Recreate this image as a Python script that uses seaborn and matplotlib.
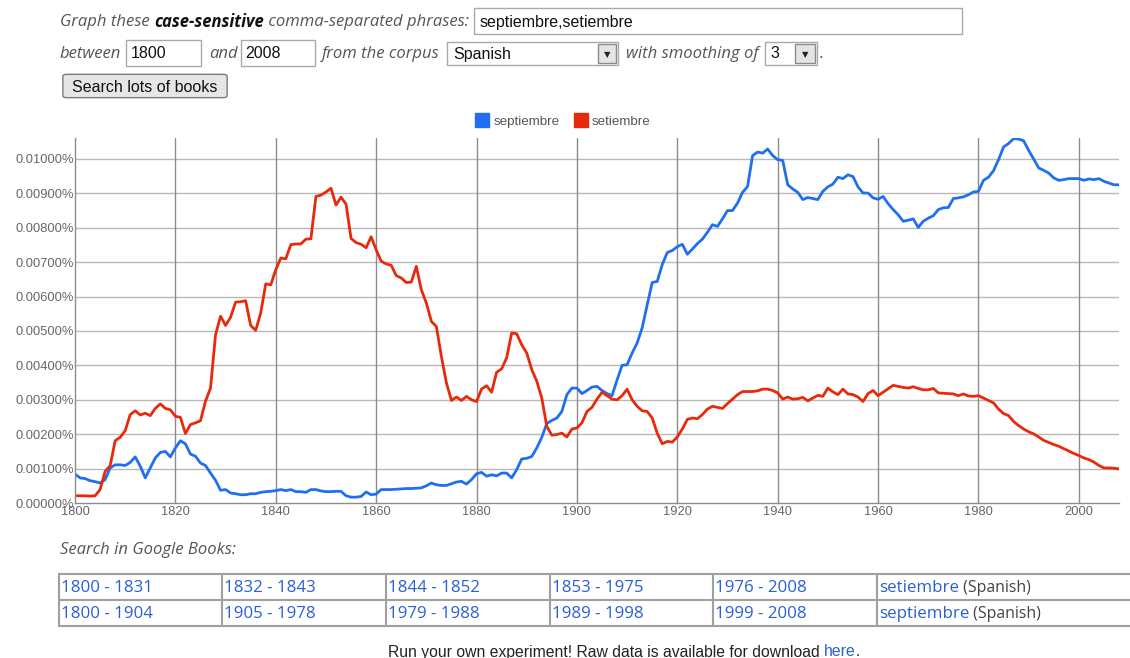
import numpy as np
import pandas as pd
import seaborn as sns
import matplotlib.pyplot as plt
from matplotlib.patches import Rectangle, FancyBboxPatch
from matplotlib.lines import Line2D
from matplotlib.ticker import FuncFormatter

# values in units of 0.001 %
years = list(range(1800, 2009))
setiembre = [
    0.21, 0.21, 0.21, 0.20, 0.21, 0.39, 0.92, 1.08, 1.81, 1.91,
    2.10, 2.57, 2.68, 2.56, 2.61, 2.54, 2.75, 2.88, 2.75, 2.71,
    2.52, 2.49, 2.02, 2.28, 2.33, 2.39, 2.96, 3.34, 4.89, 5.43,
    5.16, 5.40, 5.84, 5.85, 5.88, 5.16, 5.02, 5.52, 6.37, 6.34,
    6.78, 7.12, 7.10, 7.51, 7.53, 7.53, 7.67, 7.68, 8.91, 8.95,
    9.04, 9.15, 8.66, 8.89, 8.69, 7.69, 7.57, 7.52, 7.42, 7.74,
    7.36, 7.03, 6.95, 6.91, 6.61, 6.54, 6.41, 6.42, 6.88, 6.20,
    5.81, 5.28, 5.13, 4.26, 3.49, 2.98, 3.08, 2.98, 3.10, 3.00,
    2.95, 3.31, 3.41, 3.22, 3.80, 3.90, 4.22, 4.94, 4.92, 4.60,
    4.36, 3.88, 3.54, 3.05, 2.23, 1.97, 1.99, 2.03, 1.92, 2.15,
    2.18, 2.33, 2.66, 2.78, 3.02, 3.22, 3.12, 3.02, 3.00, 3.12,
    3.31, 3.00, 2.81, 2.68, 2.66, 2.47, 2.03, 1.72, 1.79, 1.77,
    1.92, 2.15, 2.43, 2.47, 2.45, 2.57, 2.73, 2.81, 2.78, 2.75,
    2.89, 3.02, 3.15, 3.24, 3.24, 3.24, 3.26, 3.31, 3.31, 3.27,
    3.20, 3.02, 3.08, 3.02, 3.03, 3.07, 2.97, 3.05, 3.13, 3.10,
    3.34, 3.23, 3.15, 3.31, 3.17, 3.15, 3.08, 2.95, 3.18, 3.27,
    3.12, 3.22, 3.32, 3.42, 3.39, 3.36, 3.34, 3.38, 3.33, 3.29,
    3.29, 3.33, 3.20, 3.19, 3.18, 3.17, 3.12, 3.17, 3.11, 3.10,
    3.12, 3.05, 2.98, 2.91, 2.73, 2.60, 2.54, 2.37, 2.25, 2.15,
    2.07, 2.01, 1.92, 1.82, 1.76, 1.70, 1.65, 1.58, 1.51, 1.44,
    1.38, 1.31, 1.26, 1.19, 1.09, 1.02, 1.02, 1.01, 0.99,
]
septiembre = [
    0.84, 0.73, 0.71, 0.65, 0.62, 0.58, 0.68, 1.02, 1.11, 1.11,
    1.09, 1.18, 1.34, 1.07, 0.73, 1.02, 1.31, 1.47, 1.50, 1.34,
    1.60, 1.81, 1.72, 1.42, 1.36, 1.16, 1.09, 0.87, 0.66, 0.37,
    0.39, 0.29, 0.27, 0.24, 0.24, 0.27, 0.27, 0.31, 0.33, 0.34,
    0.36, 0.39, 0.36, 0.39, 0.33, 0.33, 0.31, 0.39, 0.39, 0.35,
    0.33, 0.33, 0.34, 0.34, 0.21, 0.17, 0.17, 0.19, 0.32, 0.24,
    0.26, 0.39, 0.39, 0.39, 0.40, 0.41, 0.42, 0.42, 0.43, 0.44,
    0.50, 0.58, 0.53, 0.51, 0.51, 0.56, 0.61, 0.63, 0.55, 0.68,
    0.85, 0.89, 0.78, 0.82, 0.79, 0.87, 0.87, 0.73, 0.97, 1.28,
    1.30, 1.35, 1.60, 1.91, 2.31, 2.40, 2.47, 2.66, 3.15, 3.34,
    3.34, 3.18, 3.27, 3.37, 3.39, 3.27, 3.18, 3.12, 3.58, 4.00,
    4.02, 4.36, 4.65, 5.09, 5.76, 6.41, 6.44, 6.93, 7.28, 7.34,
    7.45, 7.52, 7.23, 7.38, 7.54, 7.67, 7.87, 8.09, 8.04, 8.26,
    8.50, 8.50, 8.72, 9.03, 9.20, 10.10, 10.20, 10.17, 10.29, 10.10,
    9.98, 9.96, 9.25, 9.13, 9.03, 8.82, 8.88, 8.85, 8.82, 9.06,
    9.19, 9.27, 9.47, 9.43, 9.54, 9.49, 9.19, 9.01, 9.01, 8.87,
    8.83, 8.91, 8.70, 8.53, 8.38, 8.19, 8.22, 8.26, 8.01, 8.19,
    8.28, 8.35, 8.53, 8.58, 8.59, 8.85, 8.87, 8.90, 8.96, 9.04,
    9.06, 9.38, 9.47, 9.66, 9.98, 10.35, 10.45, 10.59, 10.58, 10.53,
    10.25, 10.00, 9.74, 9.67, 9.59, 9.45, 9.38, 9.40, 9.43, 9.43,
    9.43, 9.38, 9.42, 9.40, 9.43, 9.35, 9.30, 9.25, 9.25,
]
phrases = ["septiembre", "setiembre"]
colors = ["#1f6ff0", "#e8290b"]
x_ticks = list(range(1800, 2001, 20))
y_ticks = list(range(0, 11))

book_ranges = [
    ["1800 - 1831", "1832 - 1843", "1844 - 1852", "1853 - 1975", "1976 - 2008"],
    ["1800 - 1904", "1905 - 1978", "1979 - 1988", "1989 - 1998", "1999 - 2008"],
]
book_phrases = ["setiembre", "septiembre"]

W, H = 1130, 658
sns.set_style("white")
plt.rcParams["font.family"] = ["Liberation Sans", "DejaVu Sans"]

fig = plt.figure(figsize=(W / 100, H / 100), dpi=100)


def fx(x):
    return x / W


def fy(y):
    return 1 - y / H


def box(x0, y0, x1, y1, fc="white", ec="#a9a9a9", lw=1.0):
    fig.add_artist(Rectangle((fx(x0), fy(y1)), (x1 - x0) / W, (y1 - y0) / H,
                             transform=fig.transFigure, fc=fc, ec=ec, lw=lw))


def runs(x, y, parts, **common):
    r = fig.canvas.get_renderer()
    cx = x
    for s, kw in parts:
        opts = {**common, **kw}
        t = fig.text(fx(cx), fy(y), s, ha="left", va="center", **opts)
        cx += t.get_window_extent(r).width
    return cx


def dropdown(x0, y0, x1, y1):
    box(x0, y0, x1, y1, fc="#e4e4e4", ec="#8a8a8a")
    fig.text(fx((x0 + x1) / 2), fy((y0 + y1) / 2 + 1), "\u25BC", ha="center", va="center",
             fontsize=6, color="#222", family="DejaVu Sans")


# ---- form at top ----
lab = dict(family="Open Sans", style="italic", color="#555555", fontsize=12)
inp = dict(fontsize=11.5, color="#111")
runs(60, 22, [("Graph these ", {}), ("case-sensitive", {"weight": "bold", "color": "#111"}),
              (" comma-separated phrases:", {})], **lab)
box(474, 8, 962, 34)
fig.text(fx(480), fy(22), "septiembre,setiembre", ha="left", va="center", **inp)

fig.text(fx(60), fy(54), "between", ha="left", va="center", **lab)
box(126, 40, 201, 66)
fig.text(fx(131), fy(54), "1800", ha="left", va="center", **inp)
fig.text(fx(209), fy(54), "and", ha="left", va="center", **lab)
box(241, 40, 315, 66)
fig.text(fx(245), fy(54), "2008", ha="left", va="center", **inp)
fig.text(fx(322), fy(54), "from the corpus", ha="left", va="center", **lab)
box(447, 42, 618, 65)
fig.text(fx(453), fy(54), "Spanish", ha="left", va="center", **inp)
dropdown(598, 44, 616, 63)
fig.text(fx(626), fy(54), "with smoothing of", ha="left", va="center", **lab)
box(765, 42, 817, 65)
fig.text(fx(770), fy(54), "3", ha="left", va="center", **inp)
dropdown(795, 44, 815, 63)
fig.text(fx(820), fy(54), ".", ha="left", va="center", **lab)

fig.add_artist(FancyBboxPatch((fx(64), fy(97)), 162 / W, 22 / H, transform=fig.transFigure,
                              boxstyle="round,pad=0.001,rounding_size=0.003",
                              fc="#e6e6e6", ec="#7a7a7a", lw=1.0))
fig.text(fx(145), fy(87), "Search lots of books", ha="center", va="center", **inp)

# ---- chart ----
ax = fig.add_axes([fx(75), fy(503), (1119 - 75) / W, (503 - 138) / H])
df = pd.DataFrame({
    "year": years * 2,
    "value": septiembre + setiembre,
    "phrase": ["septiembre"] * len(years) + ["setiembre"] * len(years),
})
sns.lineplot(data=df, x="year", y="value", hue="phrase", hue_order=phrases,
             palette=colors, linewidth=2.0, legend=False, ax=ax)
ax.set_xlim(1800, 2008)
ax.set_ylim(0, 10.61)
ax.set_xticks(x_ticks)
ax.set_yticks(y_ticks)
ax.yaxis.set_major_formatter(FuncFormatter(lambda v, _: f"{v / 1000:.5f}%"))
ax.set_xlabel("")
ax.set_ylabel("")
for v in y_ticks[1:]:
    ax.axhline(v, color="#b8b8b8", lw=1.0, zorder=0)
for v in x_ticks[1:]:
    ax.axvline(v, color="#8c8c8c", lw=1.0, zorder=0)
for s in ["top", "right"]:
    ax.spines[s].set_visible(False)
for s in ["left", "bottom"]:
    ax.spines[s].set_color("#8c8c8c")
    ax.spines[s].set_linewidth(1.0)
ax.tick_params(axis="both", length=0, labelsize=9.3, labelcolor="#666666")
ax.tick_params(axis="y", pad=1)
ax.tick_params(axis="x", pad=2)

handles = [Line2D([], [], marker="s", ls="", color=c, markersize=10) for c in colors]
fig.legend(handles, phrases, loc="center", bbox_to_anchor=(fx(563), fy(122)),
           bbox_transform=fig.transFigure, ncol=2, frameon=False, fontsize=9.6,
           labelcolor="#555555", handletextpad=0.35, columnspacing=1.1, handlelength=1.0)

# ---- Google Books table ----
fig.text(fx(60), fy(550), "Search in Google Books:", ha="left", va="center", **lab)
col_x = [59, 222, 386, 550, 713, 877, 1131]
row_y = [574, 600, 626]
for yy in row_y:
    fig.add_artist(Line2D([fx(59), fx(1131)], [fy(yy), fy(yy)], transform=fig.transFigure,
                          color="#a0a0a0", lw=1.5))
for xx in col_x[:-1]:
    fig.add_artist(Line2D([fx(xx), fx(xx)], [fy(574), fy(626)], transform=fig.transFigure,
                          color="#a0a0a0", lw=1.5))
link = "#2a5fd6"
cell = dict(family="Open Sans", fontsize=12.2)
for r, row in enumerate(book_ranges):
    yc = (row_y[r] + row_y[r + 1]) / 2 + 1.5
    for c, txt in enumerate(row):
        fig.text(fx(col_x[c] + 2), fy(yc), txt, ha="left", va="center", color=link, **cell)
    runs(col_x[5] + 2, yc, [(book_phrases[r], {"color": link}),
                            (" (Spanish)", {"color": "#444", "fontsize": 11.4})], **cell)

runs(388, 652, [("Run your own experiment! Raw data is available for download ", {"color": "#222"}),
                ("here", {"color": link}), (".", {"color": "#222"})], fontsize=11.3)

fig.savefig("out.png", dpi=100, facecolor="white")
